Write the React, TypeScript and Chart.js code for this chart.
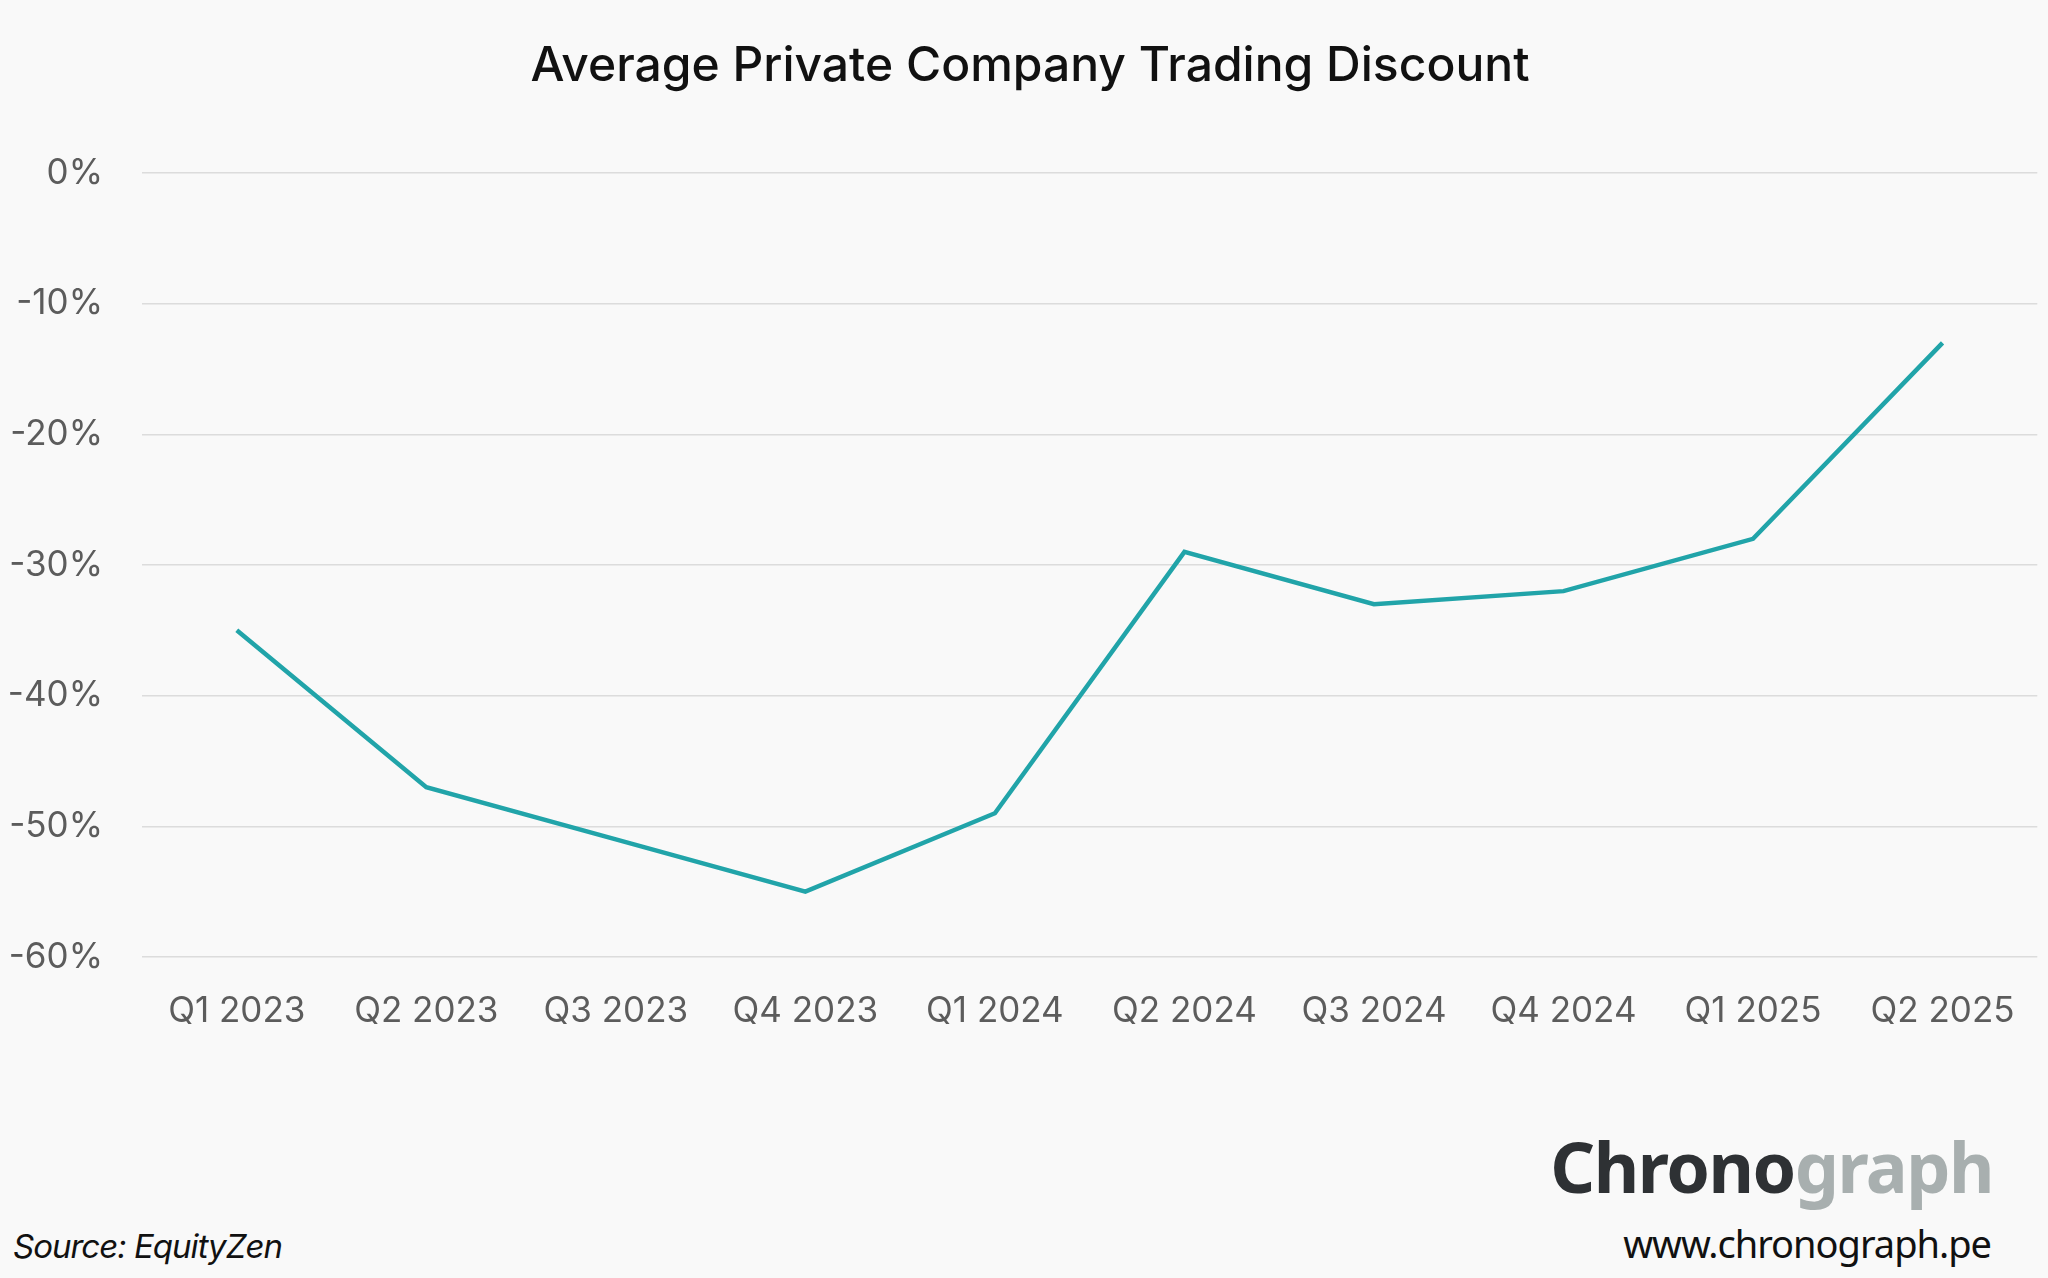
import { useEffect, useRef } from "react";
import { Chart, registerables } from "chart.js";

Chart.register(...registerables);

const quarters = [
  "Q1 2023",
  "Q2 2023",
  "Q3 2023",
  "Q4 2023",
  "Q1 2024",
  "Q2 2024",
  "Q3 2024",
  "Q4 2024",
  "Q1 2025",
  "Q2 2025",
];

const avgDiscount = [-35, -47, -51, -55, -49, -29, -33, -32, -28, -13];

const yMin = -60;
const yMax = 0;
const yStep = 10;

const TEAL = "#21a4a9";
const BG = "#f9f9f9";

function DiscountChart() {
  const canvasRef = useRef<HTMLCanvasElement | null>(null);
  const chartRef = useRef<Chart | null>(null);

  useEffect(() => {
    if (!canvasRef.current) {
      return;
    }
    chartRef.current?.destroy();

    chartRef.current = new Chart(canvasRef.current, {
      type: "line",
      data: {
        labels: quarters,
        datasets: [
          {
            data: avgDiscount,
            borderColor: TEAL,
            borderWidth: 4.5,
            pointRadius: 0,
            tension: 0,
            fill: false,
          },
        ],
      },
      options: {
        animation: false,
        responsive: true,
        maintainAspectRatio: false,
        layout: { padding: { left: 0, right: 9, top: 173, bottom: 0 } },
        plugins: {
          legend: { display: false },
          tooltip: { enabled: false },
          title: { display: false },
        },
        scales: {
          x: {
            offset: true,
            grid: { display: false, drawTicks: false },
            border: { display: false },
            ticks: {
              color: "#5c5c5c",
              font: { family: "Inter", size: 35 },
              padding: 33,
              maxRotation: 0,
              autoSkip: false,
            },
            afterFit: (scale) => {
              scale.height = 143;
            },
          },
          y: {
            min: yMin,
            max: yMax,
            grid: { color: "#dcdcdc", lineWidth: 1.5, drawTicks: false },
            border: { display: false },
            ticks: {
              stepSize: yStep,
              color: "#5c5c5c",
              font: { family: "Inter", size: 35 },
              padding: 39,
              callback: (v) => `${v}%`,
            },
            afterFit: (scale) => {
              scale.width = 142;
            },
          },
        },
      },
    });

    return () => {
      chartRef.current?.destroy();
      chartRef.current = null;
    };
  }, []);

  return <canvas ref={canvasRef} />;
}

export default function App() {
  useEffect(() => {
    document.body.style.margin = "0";
    document.body.style.background = BG;
  }, []);

  return (
    <div
      style={{
        position: "relative",
        width: 2048,
        height: 1278,
        background: BG,
        overflow: "hidden",
      }}
    >
      <div style={{ position: "absolute", left: 0, top: 0, width: 2048, height: 1100 }}>
        <DiscountChart />
      </div>
      <div
        style={{
          position: "absolute",
          left: 30,
          width: 2000,
          top: 40,
          textAlign: "center",
          fontFamily: "Inter",
          fontWeight: 500,
          fontSize: 48,
          lineHeight: 1,
          color: "#111111",
          whiteSpace: "nowrap",
        }}
      >
        Average Private Company Trading Discount
      </div>
      <div
        style={{
          position: "absolute",
          left: 13,
          top: 1230,
          fontFamily: "Inter",
          fontStyle: "italic",
          fontSize: 33,
          lineHeight: 1,
          letterSpacing: -1,
          color: "#111111",
        }}
      >
        Source: EquityZen
      </div>
      <div
        style={{
          position: "absolute",
          right: 2048 - 1993,
          top: 1131,
          fontFamily: "Noto Sans",
          fontWeight: 700,
          fontSize: 70,
          lineHeight: 1,
          letterSpacing: -1.5,
          whiteSpace: "nowrap",
        }}
      >
        <span style={{ color: "#2e3134" }}>Chrono</span>
        <span style={{ color: "#a8afaf" }}>graph</span>
      </div>
      <div
        style={{
          position: "absolute",
          right: 2048 - 1991,
          top: 1224,
          fontFamily: "Noto Sans",
          fontSize: 38,
          lineHeight: 1,
          letterSpacing: -1,
          color: "#111111",
          whiteSpace: "nowrap",
        }}
      >
        www.chronograph.pe
      </div>
    </div>
  );
}
